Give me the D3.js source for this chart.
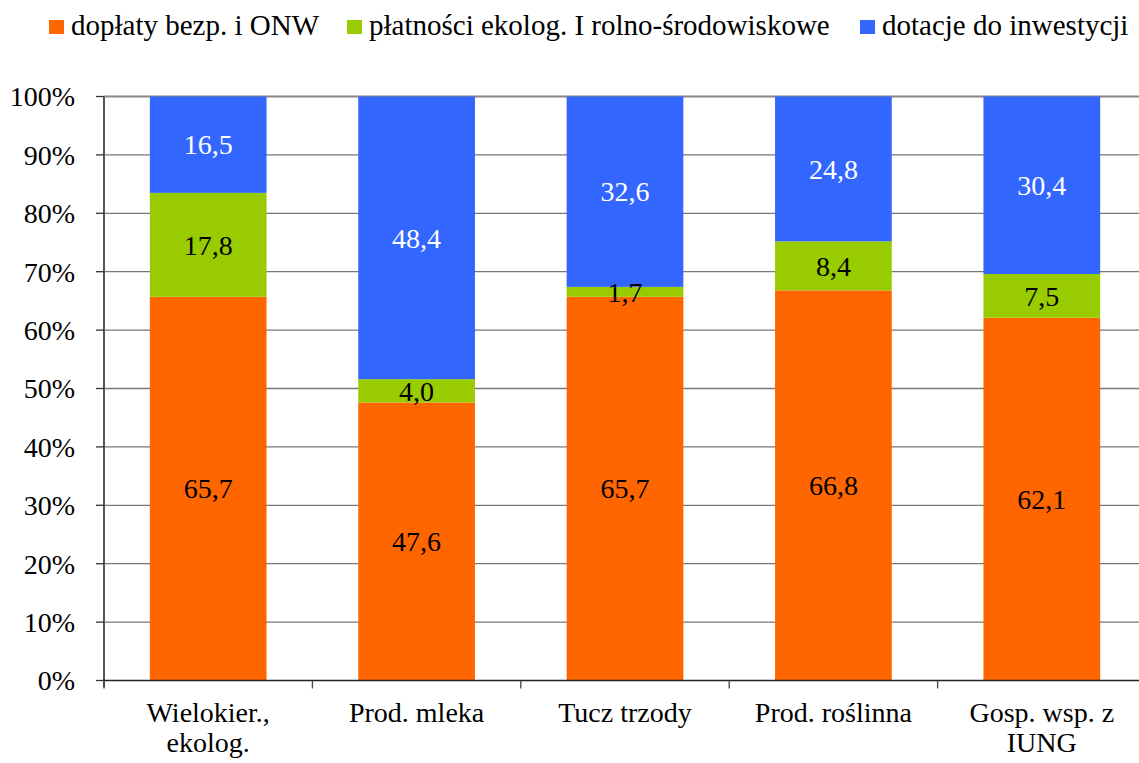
<!DOCTYPE html>
<html><head><meta charset="utf-8">
<script src="https://cdn.jsdelivr.net/npm/d3@7"></script>
</head><body style="margin:0">
<script>
const categories = [["Wielokier.,","ekolog."],["Prod. mleka"],["Tucz trzody"],["Prod. roślinna"],["Gosp. wsp. z","IUNG"]];
const seriesNames = ["dopłaty bezp. i ONW","płatności ekolog. I rolno-środowiskowe","dotacje do inwestycji"];
const doplaty = [65.7, 47.6, 65.7, 66.8, 62.1];
const platnosci = [17.8, 4.0, 1.7, 8.4, 7.5];
const dotacje = [16.5, 48.4, 32.6, 24.8, 30.4];
const colors = ["#FF6600","#99CC00","#3366FF"];
const labelColors = ["#000","#000","#fff"];
const yTicks = [0,10,20,30,40,50,60,70,80,90,100];

const FONT='"Liberation Serif"';
const W=1139,H=763;
const svg=d3.select("body").append("svg").attr("width",W).attr("height",H).style("display","block");
const m={l:104,r:1146,t:96.5,b:680.5};
const x=d3.scaleBand().domain(d3.range(categories.length)).range([m.l,m.r]).paddingInner(0.44).paddingOuter(0.22);
const y=d3.scaleLinear().domain([0,100]).range([m.b,m.t]);

function txt(){ return svg.append("text").style("font-family",FONT).attr("fill","#000"); }

// gridlines
svg.selectAll("line.grid").data(yTicks.filter(d=>d>0)).join("line").attr("class","grid")
 .attr("x1",m.l).attr("x2",W).attr("y1",d=>y(d)).attr("y2",d=>y(d))
 .attr("stroke",d=>d===100?"#888":"#777").attr("stroke-width",d=>d===100?2:1.3);

const rows = categories.map((c,i)=>({i, doplaty:doplaty[i], platnosci:platnosci[i], dotacje:dotacje[i]}));
const stack=d3.stack().keys(["doplaty","platnosci","dotacje"])(rows);
stack.forEach((s,k)=>{
  s.forEach(d=>{
    svg.append("rect").attr("x",x(d.data.i)).attr("width",x.bandwidth())
     .attr("y",y(d[1])).attr("height",y(d[0])-y(d[1])).attr("fill",colors[k]);
  });
});
stack.forEach((s,k)=>{
  s.forEach(d=>{
    txt().attr("x",x(d.data.i)+x.bandwidth()/2).attr("y",(y(d[0])+y(d[1]))/2)
     .attr("dy","0.35em").attr("text-anchor","middle").attr("font-size",28)
     .attr("fill",labelColors[k]).text((d[1]-d[0]).toFixed(1).replace(".",","));
  });
});

// y axis (scale-driven)
svg.append("line").attr("x1",m.l).attr("x2",m.l).attr("y1",m.t).attr("y2",m.b+7).attr("stroke","#555").attr("stroke-width",2);
yTicks.forEach(v=>{
  svg.append("line").attr("x1",m.l-8).attr("x2",m.l).attr("y1",y(v)).attr("y2",y(v)).attr("stroke","#333").attr("stroke-width",1.3);
  txt().attr("x",m.l-29).attr("y",y(v)).attr("dy","0.35em").attr("text-anchor","end").attr("font-size",28).text(v+"%");
});

// x axis
svg.append("line").attr("x1",m.l).attr("x2",W).attr("y1",m.b).attr("y2",m.b).attr("stroke","#222").attr("stroke-width",1.5);
d3.range(categories.length+1).forEach(i=>{
  const bx=m.l+i*x.step();
  svg.append("line").attr("x1",bx).attr("x2",bx).attr("y1",m.b).attr("y2",m.b+8).attr("stroke","#444").attr("stroke-width",1.3);
});
categories.forEach((c,i)=>{
  c.forEach((line,j)=>txt().attr("x",x(i)+x.bandwidth()/2).attr("y",722+j*30).attr("text-anchor","middle").attr("font-size",28).text(line));
});

// legend
const legX=[49,347,860];
seriesNames.forEach((n,k)=>{
  svg.append("rect").attr("x",legX[k]).attr("y",20).attr("width",15).attr("height",14).attr("fill",colors[k]);
  txt().attr("x",legX[k]+22).attr("y",35).attr("font-size",29).text(n);
});
</script>
</body></html>
